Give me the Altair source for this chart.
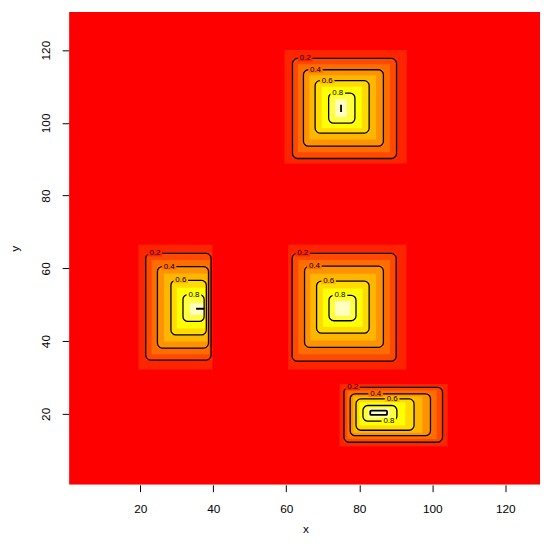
import altair as alt
import pandas as pd

# ---------------- data ----------------
# band lower thresholds (0.1 .. 0.9) and R heat.colors(10)
levels = [0.1, 0.2, 0.3, 0.4, 0.5, 0.6, 0.7, 0.8, 0.9]
band_colors = ["#FF0000", "#FF2400", "#FF4900", "#FF6D00", "#FF9200",
               "#FFB600", "#FFDB00", "#FFFF00", "#FFFF40", "#FFFFBF"]

# top blob: rectangle edges of each band (level 0.1 .. 0.9)
top_x1 = [59.5, 61.7, 63.2, 64.7, 66.3, 67.9, 69.7, 71.6, 73.4]
top_x2 = [93.0, 90.2, 88.4, 86.6, 84.6, 82.7, 80.7, 78.8, 76.6]
top_y1 = [88.8, 90.2, 91.9, 93.6, 95.4, 97.2, 98.5, 99.9, 101.6]
top_y2 = [120.0, 117.7, 116.1, 114.6, 113.1, 111.6, 109.9, 108.2, 106.4]

# left blob
left_x1 = [19.5, 21.5, 23.1, 24.7, 26.5, 28.4, 30.0, 31.7, 33.6]
left_x2 = [39.8, 39.4, 39.0, 38.7, 38.4, 38.1, 37.8, 37.5, 37.5]
left_y1 = [32.2, 34.8, 36.4, 38.1, 39.9, 41.7, 43.5, 45.4, 47.2]
left_y2 = [66.5, 64.1, 62.3, 60.5, 58.6, 56.7, 54.7, 52.8, 50.5]

# centre blob
mid_x1 = [60.5, 61.6, 63.3, 65.0, 66.6, 68.3, 70.0, 71.7, 73.4]
mid_x2 = [92.9, 90.1, 88.4, 86.6, 84.6, 82.7, 80.9, 79.1, 77.5]
mid_y1 = [32.2, 34.5, 36.4, 38.3, 40.2, 42.2, 43.9, 45.6, 47.0]
mid_y2 = [66.5, 64.1, 62.3, 60.6, 58.5, 56.5, 54.5, 52.6, 51.0]

# bottom blob
bot_x1 = [74.6, 75.8, 76.7, 77.5, 78.3, 79.1, 80.0, 81.0, 82.5]
bot_x2 = [104.2, 102.8, 101.2, 99.5, 97.3, 95.0, 92.6, 90.3, 88.3]
bot_y1 = [11.1, 12.2, 13.1, 14.0, 14.8, 15.5, 16.8, 18.0, 19.0]
bot_y2 = [28.2, 27.3, 26.4, 25.5, 24.8, 24.1, 23.2, 22.3, 21.5]

# level-1.0 contour pieces at the peaks
peak_x1 = [75.0, 35.3, 83.0]
peak_x2 = [75.0, 37.5, 87.6]
peak_y1 = [103.0, 48.9, 19.7]
peak_y2 = [105.0, 48.9, 20.9]

# contour labels
lab_text = ["0.2", "0.4", "0.6", "0.8"] * 4
lab_x = [65.2, 68.0, 71.2, 74.1,
         24.0, 27.9, 31.1, 34.7,
         64.5, 67.7, 71.6, 74.7,
         78.2, 84.5, 89.0, 88.1]
lab_y = [117.7, 114.6, 111.6, 108.2,
         64.1, 60.5, 56.7, 52.8,
         64.1, 60.6, 56.5, 52.6,
         27.3, 25.5, 24.1, 18.0]

x_ticks = [20, 40, 60, 80, 100, 120]
y_ticks = [20, 40, 60, 80, 100, 120]
x_domain = [0.5, 129.5]
y_domain = [0.5, 130.5]

# ---------------- tables ----------------
rows = [dict(x1=x_domain[0], x2=x_domain[1], y1=y_domain[0], y2=y_domain[1],
             lvl=0.0, fill=band_colors[0])]
for X1, X2, Y1, Y2 in [(top_x1, top_x2, top_y1, top_y2),
                       (left_x1, left_x2, left_y1, left_y2),
                       (mid_x1, mid_x2, mid_y1, mid_y2),
                       (bot_x1, bot_x2, bot_y1, bot_y2)]:
    for i, l in enumerate(levels):
        rows.append(dict(x1=X1[i], x2=X2[i], y1=Y1[i], y2=Y2[i],
                         lvl=l, fill=band_colors[i + 1]))
bands = pd.DataFrame(rows)
lines = bands[bands["lvl"].round(2).isin([0.2, 0.4, 0.6, 0.8])]
peaks = pd.DataFrame(dict(x1=peak_x1, x2=peak_x2, y1=peak_y1, y2=peak_y2))
lab_bg = [band_colors[int(round(float(t) * 10)) - 1] for t in lab_text]
labels = pd.DataFrame(dict(x1=lab_x, y1=lab_y, text=lab_text, bg=lab_bg))

FONT = "Liberation Sans"
xaxis = alt.Axis(values=x_ticks, title="x", grid=False, domain=False,
                 tickColor="black", tickSize=7, tickWidth=1,
                 labelFont=FONT, labelFontSize=12, labelColor="black",
                 labelPadding=12,
                 titleFont=FONT, titleFontSize=12, titleFontWeight="normal",
                 titleColor="black", titleX=240, titleY=48,
                 titleAlign="center", titleBaseline="alphabetic")
yaxis = alt.Axis(values=y_ticks, title="y", grid=False, domain=False,
                 tickColor="black", tickSize=7, tickWidth=1,
                 labelFont=FONT, labelFontSize=12, labelColor="black",
                 labelAngle=270, labelAlign="center", labelBaseline="alphabetic",
                 labelPadding=13,
                 titleFont=FONT, titleFontSize=12, titleFontWeight="normal",
                 titleColor="black", titleAngle=270, titleX=-55, titleY=240,
                 titleAlign="center", titleBaseline="middle")

xs = alt.Scale(domain=x_domain, nice=False, zero=False)
ys = alt.Scale(domain=y_domain, nice=False, zero=False)

band_layer = alt.Chart(bands).mark_rect(clip=True).encode(
    x=alt.X("x1:Q", scale=xs, axis=xaxis), x2="x2:Q",
    y=alt.Y("y1:Q", scale=ys, axis=yaxis), y2="y2:Q",
    fill=alt.Fill("fill:N", scale=None),
)

line_layer = alt.Chart(lines).mark_rect(
    fillOpacity=0, stroke="black", strokeWidth=1.3, cornerRadius=5
).encode(
    x=alt.X("x1:Q", scale=xs, axis=xaxis), x2="x2:Q",
    y=alt.Y("y1:Q", scale=ys, axis=yaxis), y2="y2:Q",
)

peak_layer = alt.Chart(peaks).mark_rect(
    fillOpacity=0, stroke="black", strokeWidth=1.8, cornerRadius=1
).encode(
    x=alt.X("x1:Q", scale=xs, axis=xaxis), x2="x2:Q",
    y=alt.Y("y1:Q", scale=ys, axis=yaxis), y2="y2:Q",
)

gap_layer = alt.Chart(labels).mark_point(
    shape="M-1.75,-0.7H1.75V0.7H-1.75Z", size=72, filled=True, opacity=1,
    strokeWidth=0
).encode(
    x=alt.X("x1:Q", scale=xs, axis=xaxis),
    y=alt.Y("y1:Q", scale=ys, axis=yaxis),
    fill=alt.Fill("bg:N", scale=None),
)

text_layer = alt.Chart(labels).mark_text(
    font=FONT, fontSize=8, color="black", align="center", baseline="middle"
).encode(
    x=alt.X("x1:Q", scale=xs, axis=xaxis),
    y=alt.Y("y1:Q", scale=ys, axis=yaxis),
    text="text:N",
)

chart = alt.layer(band_layer, line_layer, peak_layer, gap_layer, text_layer).properties(
    width=478, height=480,
    padding={"left": 62, "top": 0, "right": 0, "bottom": 49},
    autosize=alt.AutoSizeParams(type="none"),
    background="white",
).configure_view(strokeWidth=0)

chart.save("out.html", embed_options={"renderer": "svg", "actions": False})
